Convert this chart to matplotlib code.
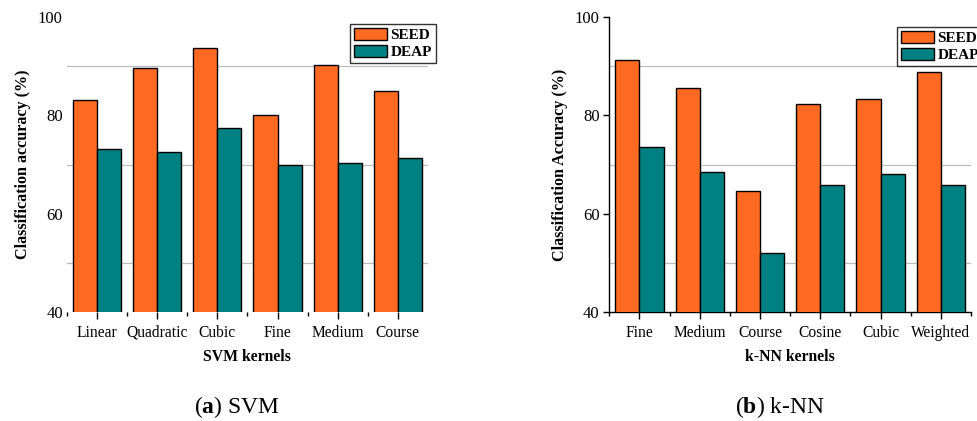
import numpy as np
import matplotlib
matplotlib.use('Agg')
import matplotlib.pyplot as plt

plt.rcParams['font.family'] = ['Liberation Serif', 'DejaVu Serif']
plt.rcParams['mathtext.fontset'] = 'custom'
plt.rcParams['mathtext.rm'] = 'Liberation Serif'
plt.rcParams['mathtext.bf'] = 'Liberation Serif:bold'

# values
svm_kernels = ['Linear', 'Quadratic', 'Cubic', 'Fine', 'Medium', 'Course']
svm_seed = [83.2, 89.7, 93.7, 80.0, 90.3, 85.0]
svm_deap = [73.2, 72.6, 77.4, 69.8, 70.4, 71.3]

knn_kernels = ['Fine', 'Medium', 'Course', 'Cosine', 'Cubic', 'Weighted']
knn_seed = [91.3, 85.5, 64.7, 82.4, 83.3, 88.9]
knn_deap = [73.6, 68.5, 52.1, 65.9, 68.1, 65.9]

SEED_COL = '#ff6a22'
DEAP_COL = '#008080'
W = 0.4


def draw_panel(ax, kernels, seed, deap, xlabel, ylabel, spines):
    x = np.arange(len(kernels))
    ax.bar(x - W/2, seed, W, color=SEED_COL, edgecolor='black', lw=1.0, label='SEED', zorder=3)
    ax.bar(x + W/2, deap, W, color=DEAP_COL, edgecolor='black', lw=1.0, label='DEAP', zorder=3)
    ax.set_xlim(-0.5, len(kernels) - 0.5)
    ax.set_ylim(40, 100)
    ax.set_yticks([40, 60, 80, 100])
    ax.set_xticks(x)
    ax.set_xticklabels(kernels, fontsize=11.2)
    # small ticks between the groups
    if spines:
        ax.set_xticks(np.arange(len(kernels) + 1) - 0.5, minor=True)
    else:
        ax.set_xticks(np.arange(len(kernels)) - 0.5, minor=True)
    for g in [50, 70, 90]:
        ax.axhline(g, color='#bdbdbd', lw=0.9, zorder=1)
    ax.tick_params(axis='y', labelsize=12, length=4 if spines else 0, width=1, pad=3)
    ax.tick_params(axis='x', which='major', length=5, width=1, pad=4)
    ax.tick_params(axis='x', which='minor', length=3, width=1)
    ax.set_xlabel(xlabel, fontsize=11.3, fontweight='bold', labelpad=6)
    ax.set_ylabel(ylabel, fontsize=11.6, fontweight='bold', labelpad=5)
    for s in ['top', 'right']:
        ax.spines[s].set_visible(False)
    for s in ['left', 'bottom']:
        ax.spines[s].set_visible(spines)
        ax.spines[s].set_linewidth(1)


fig = plt.figure(figsize=(9.78, 4.21), dpi=100)
ax1 = fig.add_axes([0.0685, 0.2589, 0.369, 0.7007])
ax2 = fig.add_axes([0.623, 0.2589, 0.3698, 0.7007])

draw_panel(ax1, svm_kernels, svm_seed, svm_deap, 'SVM kernels',
           'Classification accuracy (%)', False)
draw_panel(ax2, knn_kernels, knn_seed, knn_deap, 'k-NN kernels',
           'Classification Accuracy (%)', True)

for ax, x0, y0 in [(ax1, 350/978, 1 - 24/421), (ax2, 897/978, 1 - 27/421)]:
    leg = ax.legend(loc='upper left', bbox_to_anchor=(x0, y0), bbox_transform=fig.transFigure,
                    prop={'weight': 'bold', 'size': 11}, frameon=True, fancybox=False,
                    edgecolor='black', handlelength=2.2, handleheight=0.8,
                    handletextpad=0.2, borderpad=0.25, labelspacing=0.2, borderaxespad=0)
    leg.get_frame().set_linewidth(1)

fig.text(0.242, 0.033, r'($\mathbf{a}$) SVM', ha='center', va='center', fontsize=17)
fig.text(0.798, 0.033, r'($\mathbf{b}$) k-NN', ha='center', va='center', fontsize=17)

fig.savefig('out.png', dpi=100)
